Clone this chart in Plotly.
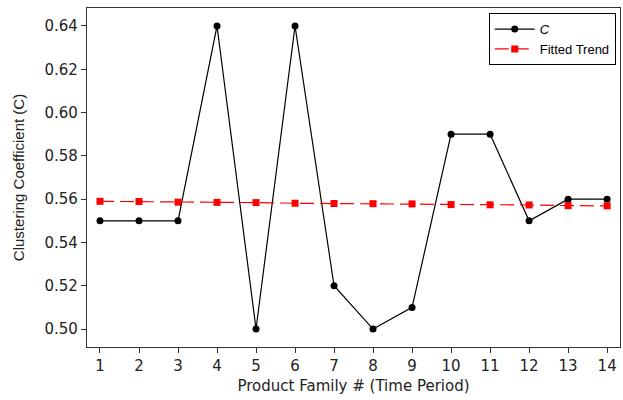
import plotly.graph_objects as go

periods = list(range(1, 15))
clustering = [0.55, 0.55, 0.55, 0.64, 0.50, 0.64, 0.52, 0.50, 0.51, 0.59, 0.59, 0.55, 0.56, 0.56]
fitted = [0.5590, 0.5589, 0.5586, 0.5585, 0.5584, 0.5581, 0.5580, 0.5579, 0.5578, 0.5575, 0.5574, 0.5573, 0.5570, 0.5569]
y_ticks = [0.50, 0.52, 0.54, 0.56, 0.58, 0.60, 0.62, 0.64]

fig = go.Figure()
fig.add_trace(go.Scatter(
    x=periods, y=clustering, mode="lines+markers", name="<i>C</i>",
    line=dict(color="black", width=1.2),
    marker=dict(symbol="circle", size=7, color="black"),
))
fig.add_trace(go.Scatter(
    x=periods, y=fitted, mode="lines+markers", name="Fitted Trend",
    line=dict(color="red", width=1.2, dash="14px,6px"),
    marker=dict(symbol="square", size=7, color="red"),
))

fig.update_layout(
    width=623, height=400,
    margin=dict(l=87, r=3, t=8, b=53),
    plot_bgcolor="white", paper_bgcolor="white",
    font=dict(family="DejaVu Sans", color="#222", size=14),
    showlegend=True,
    legend=dict(
        x=0.992, y=0.985, xanchor="right", yanchor="top",
        bgcolor="white", bordercolor="black", borderwidth=1,
        font=dict(family="Liberation Sans Narrow, Liberation Sans", size=13, color="black"),
        tracegroupgap=0, itemwidth=40,
    ),
    xaxis=dict(
        range=[0.667, 14.33], tickmode="array", tickvals=periods,
        ticks="outside", ticklen=5, tickcolor="#333",
        showline=True, linecolor="#333", linewidth=1.2, mirror=True,
        showgrid=False, zeroline=False,
        tickfont=dict(size=15),
        title=dict(text="Product Family # (Time Period)", font=dict(size=15), standoff=6),
    ),
    yaxis=dict(
        range=[0.4917, 0.6483], tickmode="array", tickvals=y_ticks,
        ticktext=[f"{v:.2f}" for v in y_ticks],
        ticks="outside", ticklen=5, tickcolor="#333",
        showline=True, linecolor="#333", linewidth=1.2, mirror=True,
        showgrid=False, zeroline=False,
        tickfont=dict(size=15),
        title=dict(text="Clustering Coefficient (C)",
                   font=dict(family="Liberation Sans Narrow, Liberation Sans", size=15), standoff=16),
    ),
)

fig.write_html("out.html")
